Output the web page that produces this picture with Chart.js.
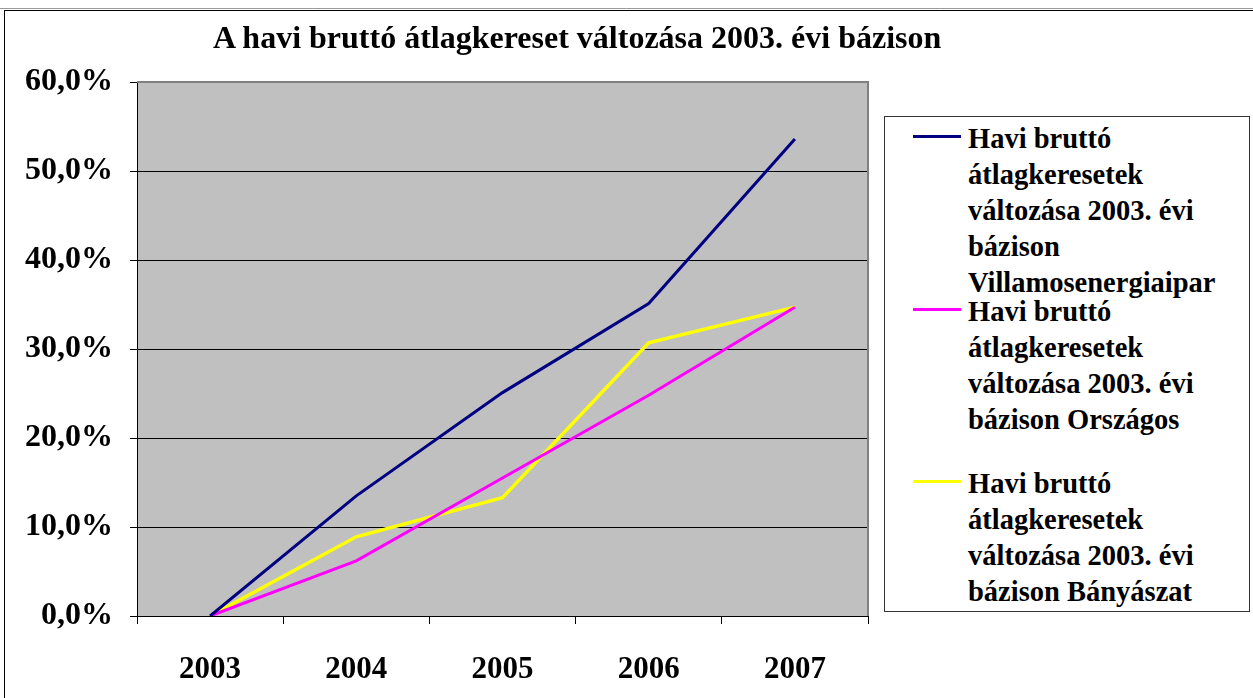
<!DOCTYPE html>
<html>
<head>
<meta charset="utf-8">
<script src="https://cdn.jsdelivr.net/npm/chart.js@4"></script>
<style>
  html, body { margin: 0; padding: 0; background: #fff; }
  #wrap { position: relative; width: 1253px; height: 698px; overflow: hidden; }
  #chart { position: absolute; left: 0; top: 0; }
  .txt { font-family: "Liberation Serif", "Times New Roman", serif; font-weight: bold; color: #000; }
  #titulo { position: absolute; left: 213px; top: 21px; font-size: 32px; line-height: 32px; white-space: nowrap; }
  #leyenda { position: absolute; left: 884px; top: 116px; width: 366px; height: 496px; border: 1px solid #333; box-sizing: border-box; background: #fff; font-size: 28.5px; }
  .item { position: absolute; left: 0; width: 360px; }
  .item .muestra { position: absolute; left: 28px; width: 48px; height: 3px; }
  .item .texto { position: absolute; left: 83px; width: 272px; line-height: 36px; }
</style>
</head>
<body>
<div id="wrap">
  <canvas id="chart" width="1253" height="698"></canvas>
  <div id="titulo" class="txt"></div>
  <div id="leyenda" class="txt"></div>
</div>
<script>
// datos
const anos = ['2003', '2004', '2005', '2006', '2007'];
const villamos = [0, 13.5, 25.1, 35.1, 53.6];
const orszagos = [0, 6.2, 15.5, 24.8, 34.7];
const banyaszat = [0, 8.9, 13.3, 30.7, 34.7];
const nombres = [
  'Havi bruttó átlagkeresetek változása 2003. évi bázison Villamosenergiaipar',
  'Havi bruttó átlagkeresetek változása 2003. évi bázison Országos',
  'Havi bruttó átlagkeresetek változása 2003. évi bázison Bányászat'
];
const colores = ['#000080', '#FF00FF', '#FFFF00'];
const grosores = [3, 3, 3.5];
const titulo = 'A havi bruttó átlagkereset változása 2003. évi bázison';

document.getElementById('titulo').textContent = titulo;

const familia = '"Liberation Serif", "Times New Roman", serif';

// fondo gris del area de trazado y marco exterior
const fondoPlugin = {
  id: 'fondo',
  beforeDraw(chart) {
    const { ctx, chartArea: a } = chart;
    ctx.save();
    ctx.fillStyle = '#C0C0C0';
    ctx.fillRect(a.left, a.top, a.right - a.left, a.bottom - a.top);
    ctx.strokeStyle = '#000';
    ctx.lineWidth = 1;
    ctx.strokeRect(4.5, 10.5, 1300, 800);
    ctx.strokeStyle = '#999';
    ctx.beginPath();
    ctx.moveTo(0, 8.5);
    ctx.lineTo(1253, 8.5);
    ctx.stroke();
    ctx.restore();
  },
  beforeDatasetsDraw(chart) {
    const { ctx, chartArea: a } = chart;
    ctx.save();
    ctx.strokeStyle = '#808080';
    ctx.lineWidth = 2;
    ctx.beginPath();
    ctx.moveTo(a.left, a.top);
    ctx.lineTo(a.right, a.top);
    ctx.lineTo(a.right, a.bottom);
    ctx.stroke();
    ctx.restore();
  }
};

const series = [villamos, orszagos, banyaszat];

const chart = new Chart(document.getElementById('chart'), {
  type: 'line',
  data: {
    labels: anos,
    datasets: series.map((d, i) => ({
      label: nombres[i],
      data: d,
      borderColor: colores[i],
      borderWidth: grosores[i],
      pointRadius: 0,
      tension: 0,
      fill: false
    }))
  },
  options: {
    responsive: false,
    animation: false,
    layout: { padding: { left: 0, top: 82, right: 385, bottom: 0 } },
    plugins: { legend: { display: false }, tooltip: { enabled: false } },
    scales: {
      x: {
        offset: true,
        afterFit(s) { s.height = 82; },
        grid: { offset: true, drawOnChartArea: false, drawTicks: true, tickLength: 8, color: '#000' },
        border: { color: '#000', width: 1 },
        ticks: { color: '#000', font: { family: familia, size: 31, weight: 'bold' }, padding: 27, maxRotation: 0 }
      },
      y: {
        min: 0,
        max: 60,
        afterFit(s) { s.width = 137; },
        grid: { color: '#000', tickLength: 7, drawTicks: true },
        border: { color: '#000', width: 1 },
        ticks: {
          stepSize: 10,
          color: '#000',
          font: { family: familia, size: 32, weight: 'bold' },
          padding: 17,
          callback: v => v.toFixed(1).replace('.', ',') + '%'
        }
      }
    }
  },
  plugins: [fondoPlugin]
});

// leyenda en html
const leyenda = document.getElementById('leyenda');
const topsItem = [4, 177, 349];
chart.data.datasets.forEach((ds, i) => {
  const item = document.createElement('div');
  item.className = 'item';
  item.style.top = topsItem[i] + 'px';
  const m = document.createElement('div');
  m.className = 'muestra';
  m.style.background = ds.borderColor;
  m.style.top = '14px';
  const t = document.createElement('div');
  t.className = 'texto';
  t.textContent = ds.label;
  item.appendChild(m);
  item.appendChild(t);
  leyenda.appendChild(item);
});
</script>
</body>
</html>
